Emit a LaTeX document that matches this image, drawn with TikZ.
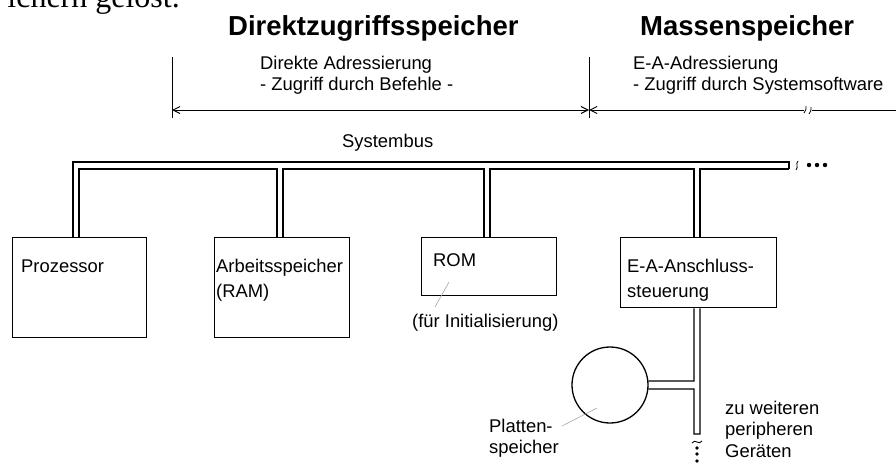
\documentclass[tikz,border=0pt]{standalone}
\usepackage{fontspec}
\setmainfont{Liberation Sans}
\newfontfamily\serifpart{Liberation Serif}
\usetikzlibrary{arrows.meta,calc}

\tikzset{
  lbl/.style={inner sep=0pt, anchor=base west, font=\fontsize{18.4}{21}\selectfont},
  headline/.style={inner sep=0pt, anchor=base west, font=\fontsize{27.5}{30}\selectfont\bfseries},
  unitbox/.style={draw, line width=1.3pt, inner sep=0pt, anchor=north west},
  busline/.style={line width=1.2pt},
  dimline/.style={line width=1pt, >={Straight Barb[length=7pt,width=7pt]}},
  ticksty/.style={line width=1pt},
  leader/.style={line width=0.6pt, gray!70},
  dotsty/.style={fill=black, draw=none},
}

\begin{document}
\begin{tikzpicture}[x=1pt,y=-1pt]
\useasboundingbox (0,0) rectangle (896,463);

% running text of the page above, cut off by the top edge
\node[inner sep=0pt, anchor=base east, font=\serifpart\fontsize{32}{36}\selectfont] (prevtext) at (180,8) {ichern gelöst.};

% headings
\node[headline] (h1) at (228,35) {Direktzugriffsspeicher};
\node[headline] (h2) at (640,35) {Massenspeicher};

% addressing ranges
\node[lbl] (d1) at (260,69) {Direkte Adressierung};
\node[lbl] (d2) at (260,90) {- Zugriff durch Befehle -};
\node[lbl] (e1) at (633,69) {E-A-Adressierung};
\node[lbl] (e2) at (633,90) {- Zugriff durch Systemsoftware};

\coordinate (tA) at (172,57);
\coordinate (tB) at (589,57);
\draw[ticksty] (tA) -- (172,118);
\draw[ticksty] (tB) -- (589,118);
\draw[dimline, <->] (172,110) -- (589,110);
\draw[dimline, <-] (589,110) -- (804,110);
\draw[line width=1pt] (812,110) -- (896,110);
\draw[line width=0.8pt] (804,113) .. controls (806,110) .. (806,106);
\draw[line width=0.8pt] (809,114) .. controls (811,111) .. (811,107);

% units on the bus
\node[unitbox, minimum width=134pt, minimum height=100pt] (proz) at (12,237) {};
\node[unitbox, minimum width=135pt, minimum height=100pt] (ram) at (214,237) {};
\node[unitbox, minimum width=135pt, minimum height=58pt] (rom) at (421,237) {};
\node[unitbox, minimum width=156pt, minimum height=70pt] (eab) at (620,237) {};

\node[lbl] (prozt) at (21,272) {Prozessor};
\node[lbl] (ramt1) at (216,272) {Arbeitsspeicher};
\node[lbl] (ramt2) at (216,297) {(RAM)};
\node[lbl] (romt) at (433,266) {ROM};
\node[lbl] (romnote) at (412,327) {(für Initialisierung)};
\node[lbl] (eat1) at (627,272) {E-A-Anschluss-};
\node[lbl] (eat2) at (627,297) {steuerung};

% system bus (double line)
\node[lbl] (bus) at (342,147) {Systembus};
\draw[busline] (73,0 |- proz.north) -- (73,162) -- (789,162) -- (789,169);
\draw[busline] (79,0 |- proz.north) -- (79,169) -- (277,169) -- (277,0 |- ram.north);
\draw[busline] (283,0 |- ram.north) -- (283,169) -- (484,169) -- (484,0 |- rom.north);
\draw[busline] (490,0 |- rom.north) -- (490,169) -- (694,169) -- (694,0 |- eab.north);
\draw[busline] (700,0 |- eab.north) -- (700,169) -- (789,169);
\draw[line width=0.8pt] (796,170) .. controls (799,167) and (795,164) .. (798,161);
\fill[dotsty] (809,165) circle (2.2) (817,165) circle (2.2) (825,165) circle (2.2);

% disk storage on the I/O line
\node[draw, circle, line width=1.3pt, minimum size=76pt, inner sep=0pt] (disk) at (610,385) {};
\draw[busline] (694,0 |- eab.south) -- (694,381) -- (disk.6);
\draw[busline] (disk.-6) -- (694,389) -- (694,434) -- (700,434) -- (700,0 |- eab.south);
\draw[line width=0.9pt] (692,443) .. controls (695,438) and (699,446) .. (702,441);
\fill[dotsty] (697,448) circle (1.9) (697,454) circle (1.9) (697,461) circle (1.9);

\node[lbl] (pl1) at (489,432) {Platten-};
\node[lbl] (pl2) at (489,453) {speicher};
\node[lbl] (zw1) at (725,414) {zu weiteren};
\node[lbl] (zw2) at (725,435) {peripheren};
\node[lbl] (zw3) at (725,457) {Geräten};

% leader lines
\coordinate (romL) at (449,282);
\coordinate (romN) at (435,307);
\draw[leader] (romL) -- (romN);
\coordinate (diskL) at (597,408);
\coordinate (diskN) at (562,426);
\draw[leader] (diskL) -- (diskN);
\end{tikzpicture}
\end{document}
